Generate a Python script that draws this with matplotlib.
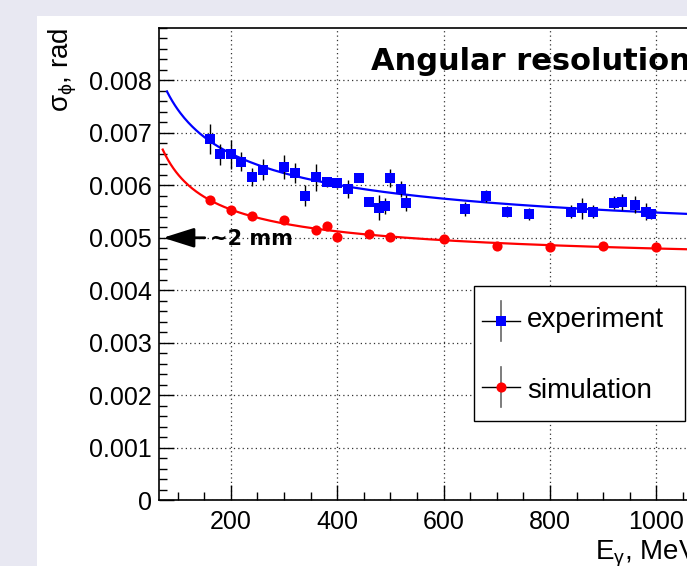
import numpy as np
import matplotlib
matplotlib.use("Agg")
import matplotlib.pyplot as plt
from matplotlib.patches import Rectangle
from matplotlib.lines import Line2D

# ---------------- data ----------------
exp_E = [160, 180, 200, 220, 240, 260, 300, 320, 340, 360, 380, 400, 420, 440,
         460, 478, 490, 500, 520, 530, 640, 680, 720, 760, 840, 860, 880, 920,
         935, 960, 980, 990]
exp_val = [0.00688, 0.00659, 0.00659, 0.00645, 0.00616, 0.00630, 0.00635, 0.00624,
           0.00580, 0.00615, 0.00606, 0.00604, 0.00593, 0.00614, 0.00569, 0.00557,
           0.00561, 0.00614, 0.00593, 0.00566, 0.00555, 0.00580, 0.00550, 0.00545,
           0.00550, 0.00556, 0.00550, 0.00567, 0.00568, 0.00563, 0.00550, 0.00545]
exp_err = [0.00028, 0.00020, 0.00028, 0.00018, 0.00018, 0.00020, 0.00022, 0.00019,
           0.00020, 0.00025, 0.00010, 0.00010, 0.00018, 0.00008, 0.00009, 0.00024,
           0.00015, 0.00017, 0.00016, 0.00015, 0.00014, 0.00012, 0.00010, 0.00012,
           0.00013, 0.00020, 0.00012, 0.00013, 0.00015, 0.00016, 0.00016, 0.00010]

sim_E = [160, 200, 240, 300, 360, 380, 400, 460, 500, 600, 700, 800, 900, 1000]
sim_val = [0.00572, 0.00553, 0.00542, 0.00533, 0.00515, 0.00523, 0.00502, 0.00508,
           0.00502, 0.00498, 0.00484, 0.00482, 0.00485, 0.00483]
sim_err = [0.00004] * len(sim_E)

# fit curves  sigma(E) = a + b/sqrt(E) + c/E
exp_fit = dict(a=0.00457, b=0.0288, c=0.0, Emin=80)
sim_fit = dict(a=0.00433, b=0.0128, c=0.0607, Emin=72)

xticks = [200, 400, 600, 800, 1000]
xticklabels = ["200", "400", "600", "800", "1000"]
yticks = [0, 0.001, 0.002, 0.003, 0.004, 0.005, 0.006, 0.007, 0.008]
yticklabels = ["0", "0.001", "0.002", "0.003", "0.004", "0.005", "0.006", "0.007", "0.008"]

# ---------------- layout ----------------
W, H = 687, 566
DPI = 100
fig = plt.figure(figsize=(W / DPI, H / DPI), dpi=DPI)
fig.patch.set_facecolor("#E8E8F2")

def fx(px):
    return px / W

def fy(py):
    return 1 - py / H

fig.add_artist(Rectangle((fx(37), 0), 1.2, fy(16), transform=fig.transFigure,
                         facecolor="white", edgecolor="none", zorder=0))

ax = fig.add_axes([fx(159), fy(500), 540 / W, 472 / H])
ax.set_facecolor("white")
XMIN, XMAX = 65, 1080
ax.set_xlim(XMIN, XMAX)
ax.set_ylim(0, 0.009)

FONT = "Liberation Sans"
ax.set_xticks(xticks)
ax.set_xticklabels(xticklabels, fontsize=18, family=FONT)
ax.set_yticks(yticks)
ax.set_yticklabels(yticklabels, fontsize=18, family=FONT)
ax.set_xticks(np.arange(100, 1080, 50), minor=True)
ax.set_yticks(np.arange(0, 0.0091, 0.0002), minor=True)
ax.tick_params(axis="both", which="major", direction="in", length=11, width=1,
               color="black")
ax.tick_params(axis="both", which="minor", direction="in", length=5.5, width=1)
ax.tick_params(axis="x", which="major", pad=7)
ax.tick_params(axis="y", which="major", pad=5)
ax.tick_params(top=False, right=False, which="both")
for s in ax.spines.values():
    s.set_linewidth(1.2)
    s.set_color("black")

ax.grid(True, which="major", color="#333333", linestyle=(0, (1, 2.5)), linewidth=0.9)
ax.set_axisbelow(True)

# fits
def fitcurve(p):
    E = np.linspace(p["Emin"], XMAX, 400)
    return E, p["a"] + p["b"] / np.sqrt(E) + p["c"] / E

Eb, yb = fitcurve(exp_fit)
ax.plot(Eb, yb, color="blue", lw=1.6, zorder=3)
Er, yr = fitcurve(sim_fit)
ax.plot(Er, yr, color="red", lw=1.6, zorder=3)

# data points
ax.errorbar(exp_E, exp_val, yerr=exp_err, fmt="s", color="blue", ms=6.5,
            ecolor="black", elinewidth=1, capsize=2, capthick=1, zorder=5,
            markeredgewidth=0)
ax.errorbar(sim_E, sim_val, yerr=sim_err, fmt="o", color="red", ms=7.3,
            ecolor="black", elinewidth=1, capsize=2, capthick=1, zorder=5,
            markeredgewidth=0)

# arrow and annotation
ax.annotate("", xy=(72.5, 0.005), xytext=(151, 0.005),
            arrowprops=dict(arrowstyle="-|>,head_length=19,head_width=6",
                            mutation_scale=1, lw=2, color="black",
                            shrinkA=0, shrinkB=0), zorder=6)
fig.text(fx(210), fy(245), "~2 mm", fontsize=15, fontweight="bold",
         family="DejaVu Sans", ha="left", va="baseline")

# title
fig.text(fx(371), fy(70), "Angular resolution", fontsize=22, fontweight="bold",
         family="DejaVu Sans", ha="left", va="baseline")

# axis titles
plt.rcParams["mathtext.fontset"] = "custom"
plt.rcParams["mathtext.rm"] = FONT
plt.rcParams["mathtext.it"] = FONT
plt.rcParams["mathtext.bf"] = FONT + ":bold"
fig.text(fx(47), fy(28), r"$\sigma_{\phi}$, rad", rotation=90, fontsize=20,
         family=FONT, ha="left", va="top")
fig.text(fx(699), fy(559), r"E$_{\gamma}$, MeV", fontsize=20, family=FONT,
         ha="right", va="baseline")

# legend (manual, ROOT style)
fig.add_artist(Rectangle((fx(474), fy(421)), fx(685) - fx(474), fy(286) - fy(421),
                         transform=fig.transFigure, facecolor="white",
                         edgecolor="black", lw=1, zorder=10))
entries = [("experiment", "s", "blue", 6.5, 320.7, 326.7),
           ("simulation", "o", "red", 7.3, 387.0, 398.3)]
for label, mk, col, ms, yc, yb_ in entries:
    fig.add_artist(Line2D([fx(501), fx(501)], [fy(yc - 20), fy(yc + 20)],
                          transform=fig.transFigure, color="#666666", lw=1.2, zorder=11))
    fig.add_artist(Line2D([fx(482), fx(520)], [fy(yc), fy(yc)],
                          transform=fig.transFigure, color="black", lw=1, zorder=11))
    fig.add_artist(Line2D([fx(501)], [fy(yc)], transform=fig.transFigure,
                          marker=mk, color=col, ms=ms, markeredgewidth=0,
                          linestyle="none", zorder=12))
    fig.text(fx(527), fy(yb_), label, fontsize=20, family=FONT, ha="left",
             va="baseline", zorder=12)

fig.savefig("out.png", dpi=DPI)
